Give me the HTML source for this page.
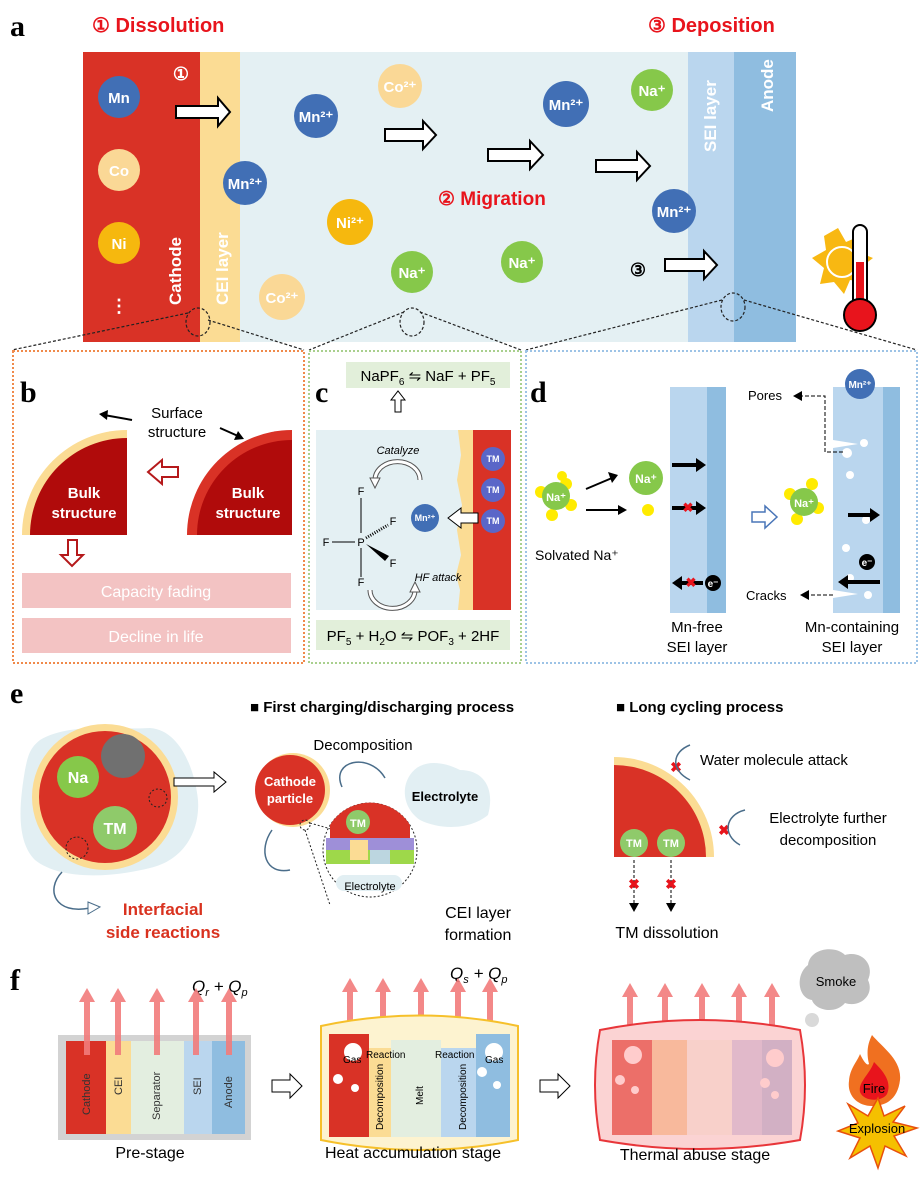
<!DOCTYPE html>
<html><head><meta charset="utf-8"><style>
html,body{margin:0;padding:0;background:#fff;}
svg{display:block;font-family:"Liberation Sans",Arial,sans-serif;}
.b{font-weight:bold}
.w{fill:#fff}
.lab{font-family:"Liberation Serif",serif;font-weight:bold;font-size:30px}
</style></head><body>
<svg width="921" height="1177" viewBox="0 0 921 1177" xmlns="http://www.w3.org/2000/svg">
<text x="10" y="36" class="lab">a</text>
<text x="92" y="32" fill="#e8141c" class="b" font-size="20">① Dissolution</text>
<text x="648" y="32" fill="#e8141c" class="b" font-size="20">③ Deposition</text>
<rect x="83" y="52" width="117" height="290" fill="#d93226"/>
<rect x="200" y="52" width="40" height="290" fill="#fbdc94"/>
<rect x="240" y="52" width="448" height="290" fill="#e4f0f3"/>
<rect x="688" y="52" width="46" height="290" fill="#bad6ee"/>
<rect x="734" y="52" width="62" height="290" fill="#8fbde0"/>
<g class="b" font-size="15" text-anchor="middle">
<circle cx="119" cy="97" r="21" fill="#416fb5"/><text x="119" y="103" class="w">Mn</text>
<circle cx="119" cy="170" r="21" fill="#fad896"/><text x="119" y="176" class="w">Co</text>
<circle cx="119" cy="243" r="21" fill="#f6b80e"/><text x="119" y="249" class="w">Ni</text>
<text x="119" y="312" class="w" font-size="18">⋮</text>
<circle cx="245" cy="183" r="22" fill="#416fb5"/><text x="245" y="189" class="w">Mn²⁺</text>
<circle cx="316" cy="116" r="22" fill="#416fb5"/><text x="316" y="122" class="w">Mn²⁺</text>
<circle cx="400" cy="86" r="22" fill="#fad896"/><text x="400" y="92" class="w">Co²⁺</text>
<circle cx="350" cy="222" r="23" fill="#f6b80e"/><text x="350" y="228" class="w">Ni²⁺</text>
<circle cx="282" cy="297" r="23" fill="#fad896"/><text x="282" y="303" class="w">Co²⁺</text>
<circle cx="412" cy="272" r="21" fill="#86c84a"/><text x="412" y="278" class="w">Na⁺</text>
<circle cx="522" cy="262" r="21" fill="#86c84a"/><text x="522" y="268" class="w">Na⁺</text>
<circle cx="566" cy="104" r="23" fill="#416fb5"/><text x="566" y="110" class="w">Mn²⁺</text>
<circle cx="652" cy="90" r="21" fill="#86c84a"/><text x="652" y="96" class="w">Na⁺</text>
<circle cx="674" cy="211" r="22" fill="#416fb5"/><text x="674" y="217" class="w">Mn²⁺</text>
</g>
<text x="181" y="80" class="w b" font-size="18" text-anchor="middle">①</text>
<text x="638" y="276" class="b" font-size="18" text-anchor="middle">③</text>
<text x="438" y="205" fill="#e8141c" class="b" font-size="19">② Migration</text>
<g fill="#fff" stroke="#000" stroke-width="2">
<polygon points="176,106 218,106 218,98 230,112 218,126 218,118 176,118"/>
<polygon points="385,129 423,129 423,121 436,135 423,149 423,141 385,141"/>
<polygon points="488,149 530,149 530,141 543,155 530,169 530,161 488,161"/>
<polygon points="596,160 637,160 637,152 650,166 637,180 637,172 596,172"/>
<polygon points="665,259 704,259 704,251 717,265 704,279 704,271 665,271"/>
</g>
<g class="w b" font-size="17">
<text transform="translate(181,305) rotate(-90)">Cathode</text>
<text transform="translate(228,305) rotate(-90)">CEI layer</text>
<text transform="translate(716,152) rotate(-90)">SEI layer</text>
<text transform="translate(773,112) rotate(-90)">Anode</text>
</g>
<g>
<polygon points="838,228 846,242 860,236 858,252 873,258 860,268 866,282 850,280 844,294 834,282 820,284 824,268 812,258 826,250 824,236" fill="#f8b812"/>
<circle cx="842" cy="262" r="15" fill="#f8b812" stroke="#fff" stroke-width="2"/>
<rect x="853" y="225" width="14" height="85" rx="7" fill="#fff" stroke="#000" stroke-width="2"/>
<rect x="856" y="262" width="8" height="48" fill="#e8141c"/>
<circle cx="860" cy="315" r="16" fill="#e8141c" stroke="#000" stroke-width="2"/>
</g>
<g fill="none" stroke="#222" stroke-dasharray="3,2" stroke-width="1.2">
<ellipse cx="198" cy="322" rx="12" ry="14"/><ellipse cx="412" cy="322" rx="12" ry="14"/><ellipse cx="733" cy="307" rx="12" ry="14"/>
<line x1="188" y1="313" x2="12" y2="350"/><line x1="208" y1="320" x2="304" y2="350"/>
<line x1="404" y1="312" x2="309" y2="350"/><line x1="420" y1="312" x2="521" y2="350"/>
<line x1="722" y1="300" x2="526" y2="350"/><line x1="744" y1="300" x2="917" y2="350"/>
</g>
<rect x="13" y="351" width="291" height="312" fill="none" stroke="#f08a4b" stroke-width="2" stroke-dasharray="2,2"/>
<text x="20" y="402" class="lab">b</text>
<path d="M127,535 L22,535 A105,105 0 0 1 127,430 Z" fill="#fbdc94"/>
<path d="M127,535 L30,535 A97,97 0 0 1 127,438 Z" fill="#b00b0b"/>
<text x="84" y="498" class="w b" font-size="15" text-anchor="middle">Bulk</text>
<text x="84" y="518" class="w b" font-size="15" text-anchor="middle">structure</text>
<path d="M292,535 L187,535 A105,105 0 0 1 292,430 Z" fill="#d93226"/>
<path d="M292,535 L197,535 A95,95 0 0 1 292,440 Z" fill="#b00b0b"/>
<text x="248" y="498" class="w b" font-size="15" text-anchor="middle">Bulk</text>
<text x="248" y="518" class="w b" font-size="15" text-anchor="middle">structure</text>
<text x="177" y="418" font-size="15" text-anchor="middle">Surface</text>
<text x="177" y="437" font-size="15" text-anchor="middle">structure</text>
<line x1="132" y1="420" x2="104" y2="415" stroke="#000" stroke-width="2"/><polygon points="99,414 108,410 107,420"/>
<line x1="220" y1="428" x2="238" y2="436" stroke="#000" stroke-width="2"/><polygon points="244,439 234,440 238,431"/>
<polygon points="178,467 162,467 162,460 148,472 162,484 162,477 178,477" fill="#fff" stroke="#b5191b" stroke-width="2"/>
<polygon points="68,540 77,540 77,555 83,555 72,566 61,555 68,555" fill="#fff" stroke="#b5191b" stroke-width="2"/>
<rect x="22" y="573" width="269" height="35" fill="#f3c3c3"/>
<text x="156" y="597" class="w" font-size="16" text-anchor="middle">Capacity fading</text>
<rect x="22" y="618" width="269" height="35" fill="#f3c3c3"/>
<text x="156" y="642" class="w" font-size="16" text-anchor="middle">Decline in life</text>
<rect x="309" y="351" width="212" height="312" fill="none" stroke="#a9d08e" stroke-width="2" stroke-dasharray="2,2"/>
<text x="315" y="402" class="lab">c</text>
<rect x="346" y="362" width="164" height="26" fill="#e2efda"/>
<text x="428" y="381" font-size="15" text-anchor="middle">NaPF<tspan font-size="10" dy="4">6</tspan><tspan dy="-4"> ⇋ NaF + PF</tspan><tspan font-size="10" dy="4">5</tspan></text>
<polygon points="395,412 401,412 401,400 405,400 398,391 391,400 395,400" fill="#fff" stroke="#000" stroke-width="1"/>
<rect x="316" y="430" width="160" height="180" fill="#e4f0f3"/>
<path d="M458,430 L473,430 L473,610 L458,610 L460,590 L456,575 L461,555 L457,530 L462,505 L457,480 L461,455 Z" fill="#fbdc94"/>
<rect x="473" y="430" width="38" height="180" fill="#d93226"/>
<g font-size="9" class="w b" text-anchor="middle">
<circle cx="493" cy="459" r="12" fill="#5a66c8"/><text x="493" y="462">TM</text>
<circle cx="493" cy="490" r="12" fill="#5a66c8"/><text x="493" y="493">TM</text>
<circle cx="493" cy="521" r="12" fill="#5a66c8"/><text x="493" y="524">TM</text>
<circle cx="425" cy="518" r="14" fill="#416fb5"/><text x="425" y="521">Mn²⁺</text>
</g>
<polygon points="478,513 461,513 461,508 448,518 461,528 461,523 478,523" fill="#fff" stroke="#000"/>
<text x="398" y="454" font-size="11" font-style="italic" text-anchor="middle">Catalyze</text>
<path d="M375,480 A22,18 0 0 1 420,480" fill="none" stroke="#555" stroke-width="5"/>
<path d="M375,480 A22,18 0 0 1 420,480" fill="none" stroke="#fff" stroke-width="3"/>
<polygon points="370,478 380,478 375,488" fill="#fff" stroke="#555"/>
<path d="M370,590 A22,18 0 0 0 415,590" fill="none" stroke="#555" stroke-width="5"/>
<path d="M370,590 A22,18 0 0 0 415,590" fill="none" stroke="#fff" stroke-width="3"/>
<polygon points="410,592 420,592 415,582" fill="#fff" stroke="#555"/>
<text x="438" y="581" font-size="11" font-style="italic" text-anchor="middle">HF attack</text>
<g font-size="11" stroke="#000">
<line x1="361" y1="498" x2="361" y2="533"/><line x1="361" y1="548" x2="361" y2="577"/><line x1="332" y1="542" x2="355" y2="542"/>
<line x1="366" y1="538" x2="388" y2="525" stroke-dasharray="1,1.5" stroke-width="3"/>
<polygon points="366,544 389,556 385,561" fill="#000" stroke="none"/>
</g>
<g font-size="11" text-anchor="middle"><text x="361" y="495">F</text><text x="361" y="586">F</text><text x="326" y="546">F</text><text x="361" y="546">P</text><text x="393" y="525">F</text><text x="393" y="567">F</text></g>
<rect x="316" y="620" width="194" height="30" fill="#e2efda"/>
<text x="413" y="641" font-size="15" text-anchor="middle">PF<tspan font-size="10" dy="4">5</tspan><tspan dy="-4"> + H</tspan><tspan font-size="10" dy="4">2</tspan><tspan dy="-4">O ⇋ POF</tspan><tspan font-size="10" dy="4">3</tspan><tspan dy="-4"> + 2HF</tspan></text>
<rect x="526" y="351" width="391" height="312" fill="none" stroke="#9dc3e6" stroke-width="2" stroke-dasharray="2,2"/>
<text x="530" y="402" class="lab">d</text>
<rect x="670" y="387" width="37" height="226" fill="#bad6ee"/><rect x="707" y="387" width="19" height="226" fill="#8fbde0"/>
<rect x="833" y="387" width="50" height="226" fill="#bad6ee"/><rect x="883" y="387" width="17" height="226" fill="#8fbde0"/>
<g fill="#fff"><circle cx="847" cy="453" r="5"/><circle cx="864" cy="443" r="4"/><circle cx="850" cy="475" r="4"/><circle cx="866" cy="520" r="4"/><circle cx="846" cy="548" r="4"/><circle cx="850" cy="578" r="4"/><circle cx="868" cy="595" r="4"/>
<polygon points="833,440 858,444 833,448"/><polygon points="833,590 858,594 833,598"/></g>
<circle cx="860" cy="384" r="15" fill="#416fb5"/><text x="860" y="388" class="w b" font-size="10" text-anchor="middle">Mn²⁺</text>
<g fill="#ffeb00"><circle cx="541" cy="492" r="6"/><circle cx="566" cy="484" r="6"/><circle cx="571" cy="505" r="6"/><circle cx="552" cy="515" r="6"/><circle cx="562" cy="476" r="5"/></g>
<circle cx="556" cy="496" r="14" fill="#86c84a"/><text x="556" y="501" class="w b" font-size="11" text-anchor="middle">Na⁺</text>
<circle cx="646" cy="478" r="17" fill="#86c84a"/><text x="646" y="483" class="w b" font-size="12" text-anchor="middle">Na⁺</text>
<circle cx="648" cy="510" r="6" fill="#ffeb00"/>
<g fill="#ffeb00"><circle cx="790" cy="494" r="6"/><circle cx="812" cy="484" r="6"/><circle cx="818" cy="508" r="6"/><circle cx="797" cy="519" r="6"/></g>
<circle cx="804" cy="502" r="14" fill="#86c84a"/><text x="804" y="507" class="w b" font-size="11" text-anchor="middle">Na⁺</text>
<g stroke="#000" stroke-width="2">
<line x1="586" y1="489" x2="612" y2="478"/><line x1="586" y1="510" x2="620" y2="510"/>
<line x1="672" y1="465" x2="697" y2="465" stroke-width="4"/><line x1="672" y1="508" x2="697" y2="508" stroke-width="4"/>
<line x1="848" y1="515" x2="872" y2="515" stroke-width="4"/><line x1="848" y1="582" x2="880" y2="582" stroke-width="4"/>
<line x1="680" y1="583" x2="703" y2="583" stroke-width="4"/>
</g>
<g><polygon points="618,475 608,472 612,483"/><polygon points="627,510 618,505 618,515"/>
<polygon points="706,465 696,458 696,472"/><polygon points="706,508 696,501 696,515"/><polygon points="880,515 870,508 870,522"/>
<polygon points="838,582 848,575 848,589"/><polygon points="672,583 682,576 682,590"/></g>
<text x="688" y="512" fill="#e8141c" class="b" font-size="13" text-anchor="middle">✖</text>
<text x="691" y="587" fill="#e8141c" class="b" font-size="13" text-anchor="middle">✖</text>
<circle cx="713" cy="583" r="8"/><text x="713" y="587" class="w b" font-size="10" text-anchor="middle">e⁻</text>
<circle cx="867" cy="562" r="8"/><text x="867" y="566" class="w b" font-size="10" text-anchor="middle">e⁻</text>
<polygon points="752,512 765,512 765,506 777,517 765,528 765,522 752,522" fill="#fff" stroke="#4a76b8" stroke-width="1.5"/>
<text x="535" y="560" font-size="14">Solvated Na⁺</text>
<text x="697" y="632" font-size="15" text-anchor="middle">Mn-free</text>
<text x="697" y="652" font-size="15" text-anchor="middle">SEI layer</text>
<text x="852" y="632" font-size="15" text-anchor="middle">Mn-containing</text>
<text x="852" y="652" font-size="15" text-anchor="middle">SEI layer</text>
<text x="748" y="400" font-size="13">Pores</text>
<text x="746" y="600" font-size="13">Cracks</text>
<path d="M843,452 L825,452 L825,396 L800,396" fill="none" stroke="#000" stroke-dasharray="4,2"/><polygon points="793,396 802,391 802,401"/>
<path d="M833,595 L810,595" fill="none" stroke="#000" stroke-dasharray="4,2"/><polygon points="800,595 809,590 809,600"/>
<text x="10" y="703" class="lab">e</text>
<text x="250" y="712" class="b" font-size="15">■  First charging/discharging process</text>
<text x="616" y="712" class="b" font-size="15">■  Long cycling process</text>
<path d="M40,740 C70,722 120,730 150,728 C180,730 195,770 198,800 C200,830 185,860 150,868 C110,878 60,880 35,860 C15,840 20,800 25,770 C28,755 30,748 40,740 Z" fill="#e2eff3"/>
<circle cx="105" cy="797" r="73" fill="#fbdc94"/><circle cx="105" cy="797" r="66" fill="#d93226"/>
<circle cx="123" cy="756" r="22" fill="#707070"/>
<circle cx="78" cy="777" r="21" fill="#86c84a"/><text x="78" y="783" class="w b" font-size="16" text-anchor="middle">Na</text>
<circle cx="115" cy="828" r="22" fill="#8fca6a"/><text x="115" y="834" class="w b" font-size="16" text-anchor="middle">TM</text>
<g fill="none" stroke="#222" stroke-dasharray="2,2"><circle cx="158" cy="798" r="9"/><circle cx="77" cy="848" r="11"/></g>
<polygon points="174,778 214,778 214,772 226,782 214,792 214,786 174,786" fill="#fff" stroke="#000"/>
<path d="M62,872 C45,890 55,915 90,908" fill="none" stroke="#4a6d8a" stroke-width="1.5"/><polygon points="88,902 100,907 88,914" fill="#fff" stroke="#4a6d8a"/>
<text x="163" y="915" fill="#d9321f" class="b" font-size="17" text-anchor="middle">Interfacial</text>
<text x="163" y="938" fill="#d9321f" class="b" font-size="17" text-anchor="middle">side reactions</text>
<circle cx="293" cy="790" r="37" fill="#fbdc94"/><circle cx="290" cy="790" r="35" fill="#d93226"/>
<text x="290" y="786" class="w b" font-size="13" text-anchor="middle">Cathode</text>
<text x="290" y="803" class="w b" font-size="13" text-anchor="middle">particle</text>
<text x="363" y="750" font-size="15" text-anchor="middle">Decomposition</text>
<path d="M342,787 C330,760 370,752 385,778" fill="none" stroke="#4a6d8a" stroke-width="1.5"/>
<path d="M410,775 C420,760 440,760 460,770 C485,770 495,790 488,815 C470,830 440,830 420,820 C405,810 400,790 410,775 Z" fill="#e2eff3"/>
<text x="445" y="801" class="b" font-size="13" text-anchor="middle">Electrolyte</text>
<path d="M272,830 C258,850 265,875 290,870" fill="none" stroke="#4a6d8a" stroke-width="1.5"/>
<g fill="none" stroke="#222" stroke-dasharray="2,2"><circle cx="305" cy="825" r="5"/><line x1="305" y1="830" x2="330" y2="905"/><line x1="310" y1="823" x2="405" y2="850"/><circle cx="370" cy="850" r="47"/></g>
<path d="M330,825 A47,47 0 0 1 410,825 L410,842 L330,842 Z" fill="#d93226"/>
<rect x="326" y="838" width="88" height="14" fill="#9e8fd8"/><rect x="326" y="850" width="88" height="14" fill="#9ed84a"/>
<rect x="350" y="840" width="18" height="20" fill="#fbdc94"/><rect x="370" y="850" width="20" height="14" fill="#bcd6e0"/>
<circle cx="358" cy="822" r="12" fill="#8fca6a"/><text x="358" y="827" class="w b" font-size="11" text-anchor="middle">TM</text>
<rect x="336" y="875" width="66" height="16" rx="8" fill="#e2eff3"/>
<text x="370" y="890" font-size="11" text-anchor="middle">Electrolyte</text>
<text x="478" y="918" font-size="16" text-anchor="middle">CEI layer</text>
<text x="478" y="940" font-size="16" text-anchor="middle">formation</text>
<path d="M614,857 L614,757 A100,100 0 0 1 714,857 Z" fill="#fbdc94"/>
<path d="M614,857 L614,765 A92,92 0 0 1 706,857 Z" fill="#d93226"/>
<circle cx="634" cy="843" r="14" fill="#8fca6a"/><text x="634" y="847" class="w b" font-size="11" text-anchor="middle">TM</text>
<circle cx="671" cy="843" r="14" fill="#8fca6a"/><text x="671" y="847" class="w b" font-size="11" text-anchor="middle">TM</text>
<g stroke="#000" stroke-dasharray="3,2"><line x1="634" y1="860" x2="634" y2="905"/><line x1="671" y1="860" x2="671" y2="905"/></g>
<polygon points="629,903 639,903 634,912"/><polygon points="666,903 676,903 671,912"/>
<g fill="#e8141c" class="b" font-size="14" text-anchor="middle"><text x="634" y="889">✖</text><text x="671" y="889">✖</text><text x="676" y="772">✖</text><text x="724" y="835">✖</text></g>
<path d="M690,745 C672,752 670,770 690,780" fill="none" stroke="#4a6d8a" stroke-width="1.5"/>
<path d="M745,810 C725,815 722,835 740,845" fill="none" stroke="#4a6d8a" stroke-width="1.5"/>
<text x="700" y="765" font-size="15">Water molecule attack</text>
<text x="828" y="823" font-size="15" text-anchor="middle">Electrolyte further</text>
<text x="828" y="845" font-size="15" text-anchor="middle">decomposition</text>
<text x="667" y="938" font-size="16" text-anchor="middle">TM dissolution</text>
<text x="10" y="990" class="lab">f</text>
<text x="192" y="992" font-size="17" font-style="italic">Q<tspan font-size="11" dy="4">r</tspan><tspan dy="-4"> + Q</tspan><tspan font-size="11" dy="4">p</tspan></text>
<text x="450" y="979" font-size="17" font-style="italic">Q<tspan font-size="11" dy="4">s</tspan><tspan dy="-4"> + Q</tspan><tspan font-size="11" dy="4">p</tspan></text>
<rect x="58" y="1035" width="193" height="105" fill="#d3d3d3"/>
<rect x="66" y="1041" width="40" height="93" fill="#d93226"/>
<rect x="106" y="1041" width="25" height="93" fill="#fbdc94"/>
<rect x="131" y="1041" width="53" height="93" fill="#e3eee0"/>
<rect x="184" y="1041" width="28" height="93" fill="#bad6ee"/>
<rect x="212" y="1041" width="33" height="93" fill="#8fbde0"/>
<g font-size="11" fill="#333"><text transform="translate(90,1115) rotate(-90)">Cathode</text><text transform="translate(122,1095) rotate(-90)">CEI</text>
<text transform="translate(160,1120) rotate(-90)">Separator</text><text transform="translate(201,1095) rotate(-90)">SEI</text><text transform="translate(232,1108) rotate(-90)">Anode</text></g>
<g fill="#f27c7c" opacity="0.9">
<rect x="84" y="1000" width="6" height="55"/><polygon points="79,1002 95,1002 87,988"/>
<rect x="115" y="1000" width="6" height="55"/><polygon points="110,1002 126,1002 118,988"/>
<rect x="154" y="1000" width="6" height="55"/><polygon points="149,1002 165,1002 157,988"/>
<rect x="193" y="1000" width="6" height="55"/><polygon points="188,1002 204,1002 196,988"/>
<rect x="226" y="1000" width="6" height="55"/><polygon points="221,1002 237,1002 229,988"/>
<rect x="347" y="990" width="6" height="40"/><polygon points="342,992 358,992 350,978"/>
<rect x="380" y="990" width="6" height="40"/><polygon points="375,992 391,992 383,978"/>
<rect x="418" y="990" width="6" height="40"/><polygon points="413,992 429,992 421,978"/>
<rect x="455" y="990" width="6" height="40"/><polygon points="450,992 466,992 458,978"/>
<rect x="487" y="990" width="6" height="40"/><polygon points="482,992 498,992 490,978"/>
<rect x="627" y="995" width="6" height="35"/><polygon points="622,997 638,997 630,983"/>
<rect x="662" y="995" width="6" height="35"/><polygon points="657,997 673,997 665,983"/>
<rect x="699" y="995" width="6" height="35"/><polygon points="694,997 710,997 702,983"/>
<rect x="736" y="995" width="6" height="35"/><polygon points="731,997 747,997 739,983"/>
<rect x="769" y="995" width="6" height="35"/><polygon points="764,997 780,997 772,983"/>
</g>
<polygon points="272,1080 290,1080 290,1074 302,1086 290,1098 290,1092 272,1092" fill="#fff" stroke="#000"/>
<polygon points="540,1080 558,1080 558,1074 570,1086 558,1098 558,1092 540,1092" fill="#fff" stroke="#000"/>
<path d="M321,1026 Q420,1005 518,1026 L518,1140 Q420,1160 321,1140 Z" fill="#fdf3d0" stroke="#f6c02a" stroke-width="2"/>
<rect x="329" y="1034" width="40" height="103" fill="#d93226"/>
<rect x="369" y="1048" width="22" height="89" fill="#fbdc94"/>
<rect x="391" y="1040" width="50" height="97" fill="#e3eee0"/>
<rect x="441" y="1048" width="35" height="89" fill="#bad6ee"/>
<rect x="476" y="1034" width="34" height="103" fill="#8fbde0"/>
<g fill="#fff"><circle cx="353" cy="1052" r="9"/><circle cx="338" cy="1079" r="5"/><circle cx="355" cy="1088" r="4"/><circle cx="494" cy="1052" r="9"/><circle cx="482" cy="1072" r="5"/><circle cx="497" cy="1085" r="4"/></g>
<g font-size="10"><text x="343" y="1063">Gas</text><text x="366" y="1058">Reaction</text><text x="435" y="1058">Reaction</text><text x="485" y="1063">Gas</text></g>
<g font-size="10"><text transform="translate(383,1130) rotate(-90)">Decomposition</text><text transform="translate(423,1105) rotate(-90)">Melt</text><text transform="translate(466,1130) rotate(-90)">Decomposition</text></g>
<path d="M600,1030 Q700,1010 800,1030 Q810,1085 800,1140 Q700,1158 600,1140 Q590,1085 600,1030 Z" fill="#fbd3d3" stroke="#e8363a" stroke-width="2"/>
<rect x="612" y="1040" width="40" height="95" fill="#e9564f" opacity="0.8"/>
<rect x="652" y="1040" width="35" height="95" fill="#f7b38f" opacity="0.8"/>
<rect x="687" y="1040" width="45" height="95" fill="#f8d0c8" opacity="0.8"/>
<rect x="732" y="1040" width="30" height="95" fill="#dbb3c8" opacity="0.8"/>
<rect x="762" y="1040" width="30" height="95" fill="#c8a8c0" opacity="0.8"/>
<g fill="#fcc"><circle cx="633" cy="1055" r="9"/><circle cx="620" cy="1080" r="5"/><circle cx="635" cy="1090" r="4"/><circle cx="775" cy="1058" r="9"/><circle cx="765" cy="1083" r="5"/><circle cx="775" cy="1095" r="4"/></g>
<path d="M808,965 C810,948 835,945 845,955 C862,950 875,965 868,980 C875,995 860,1008 845,1003 C835,1015 815,1010 812,1000 C798,998 795,975 808,965 Z" fill="#bfbfbf"/>
<circle cx="812" cy="1020" r="7" fill="#d9d9d9"/>
<text x="836" y="986" font-size="13" text-anchor="middle">Smoke</text>
<path d="M872,1035 C882,1047 902,1060 900,1080 C898,1098 887,1106 872,1106 C857,1106 847,1095 849,1081 C850,1068 857,1062 860,1054 C864,1062 867,1066 869,1064 C866,1052 868,1043 872,1035 Z" fill="#f07020"/>
<path d="M874,1062 C884,1072 892,1082 887,1094 C882,1102 864,1102 860,1092 C858,1082 870,1074 874,1062 Z" fill="#e8141c"/>
<text x="874" y="1093" font-size="13" text-anchor="middle" fill="#000">Fire</text>
<polygon points="878,1098 884,1116 905,1106 893,1122 917,1128 894,1136 906,1156 885,1146 878,1168 870,1146 850,1158 860,1138 838,1131 858,1123 848,1104 868,1116" fill="#f5c000" stroke="#e8500c" stroke-width="1.5"/>
<text x="877" y="1133" font-size="13" text-anchor="middle">Explosion</text>
<text x="150" y="1158" font-size="16" text-anchor="middle">Pre-stage</text>
<text x="413" y="1158" font-size="16" text-anchor="middle">Heat accumulation stage</text>
<text x="695" y="1160" font-size="16" text-anchor="middle">Thermal abuse stage</text>
</svg>
</body></html>
